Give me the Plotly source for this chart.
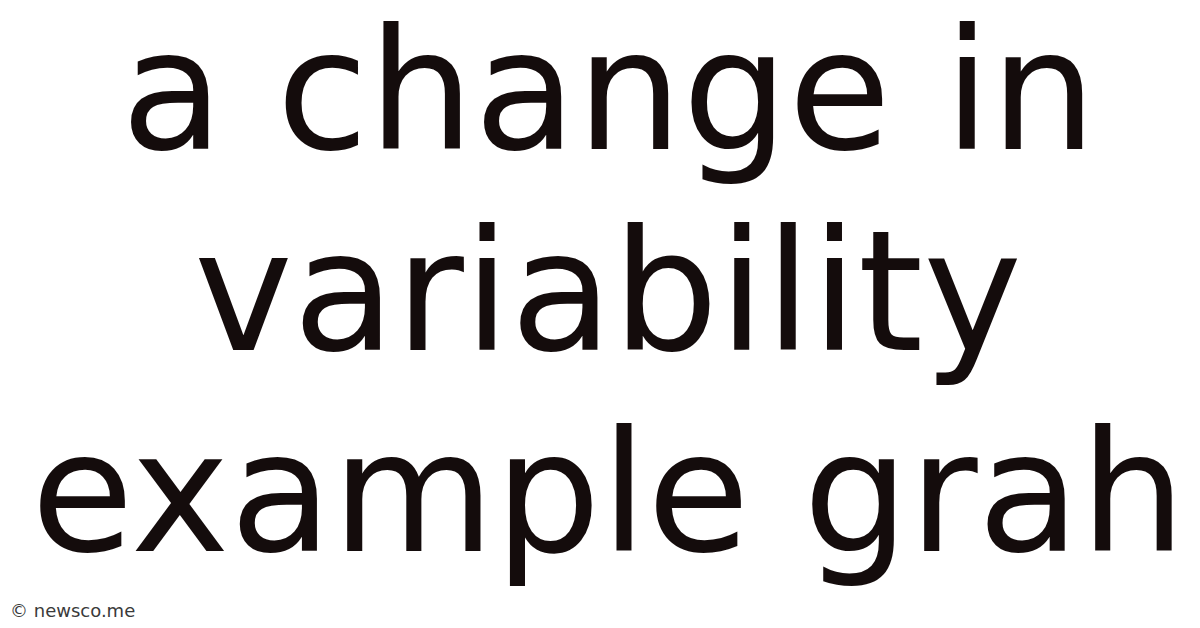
import plotly.graph_objects as go

# text lines of the title card, top to bottom
title_lines = ["a change in", "variability", "example grah"]
footer_text = "© newsco.me"

W, H = 1200, 628
FONT_SIZE = 167
TEXT_COLOR = "#140c0c"

fig = go.Figure()

# baselines sit roughly 201px apart, first one near y=150
first_center = 83
line_step = 201
for i, line in enumerate(title_lines):
    cy = first_center + i * line_step
    fig.add_annotation(
        text=line,
        x=0.5,
        y=1 - cy / H,
        xref="paper",
        yref="paper",
        xanchor="center",
        yanchor="middle",
        showarrow=False,
        font=dict(family="DejaVu Sans", size=FONT_SIZE, color=TEXT_COLOR),
    )

fig.add_annotation(
    text=footer_text,
    x=0,
    y=1 - 602 / H,
    xref="paper",
    yref="paper",
    xanchor="left",
    yanchor="middle",
    showarrow=False,
    font=dict(family="DejaVu Sans", size=18, color="#3a3a3a"),
)

fig.update_layout(
    width=W,
    height=H,
    margin=dict(l=0, r=0, t=0, b=0),
    paper_bgcolor="white",
    plot_bgcolor="white",
    xaxis=dict(visible=False),
    yaxis=dict(visible=False),
    showlegend=False,
)

fig.write_html("out.html")
